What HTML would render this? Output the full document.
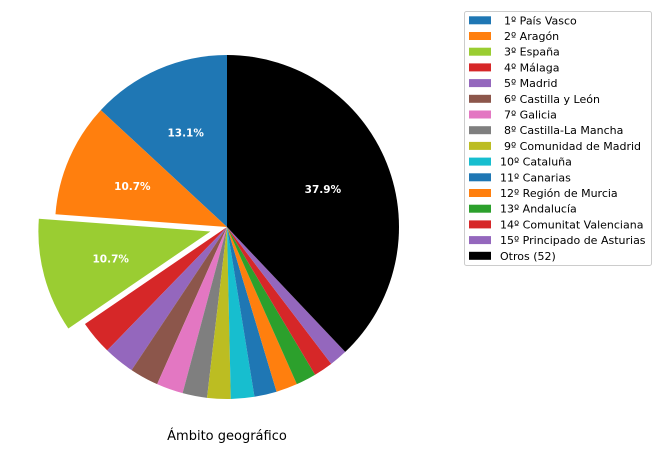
<!DOCTYPE html>
<html><head><meta charset="utf-8"><style>
body{margin:0;background:#fff;width:659px;height:454px;overflow:hidden;font-family:"DejaVu Sans","Liberation Sans",sans-serif}
</style></head><body>
<svg id="chart" width="659" height="454" xmlns="http://www.w3.org/2000/svg">
<g id="slices"></g>
<g id="labels"></g>
<text x="227" y="440" text-anchor="middle" font-size="13" fill="#000">Ámbito geográfico</text>
<rect x="464.5" y="11.5" width="187" height="254" fill="#fff" stroke="#ccc" rx="2"/>
<g id="legend"></g>
</svg>
<script>
const categories=["1º País Vasco","2º Aragón","3º España","4º Málaga","5º Madrid","6º Castilla y León","7º Galicia","8º Castilla-La Mancha","9º Comunidad de Madrid","10º Cataluña","11º Canarias","12º Región de Murcia","13º Andalucía","14º Comunitat Valenciana","15º Principado de Asturias","Otros (52)"];
const values=[13.1,10.7,10.7,3.2,2.9,2.7,2.5,2.3,2.2,2.2,2.1,2.0,1.9,1.8,1.7,37.9];
const colors=["#1f77b4","#ff7f0e","#9acd32","#d62728","#9467bd","#8c564b","#e377c2","#7f7f7f","#bcbd22","#17becf","#1f77b4","#ff7f0e","#2ca02c","#d62728","#9467bd","#000000"];
const explode=[0,0,0.1,0,0,0,0,0,0,0,0,0,0,0,0,0];
const showPct=[true,true,true,false,false,false,false,false,false,false,false,false,false,false,false,true];
const NS="http://www.w3.org/2000/svg";
const cx=227,cy=227,r=172;
const total=values.reduce((a,b)=>a+b,0);
let a=90;
const gS=document.getElementById('slices'),gL=document.getElementById('labels'),gLeg=document.getElementById('legend');
values.forEach((v,i)=>{
  const sw=v/total*360, a0=a, a1=a+sw, mid=(a0+a1)/2*Math.PI/180;
  const ox=explode[i]*r*Math.cos(mid), oy=-explode[i]*r*Math.sin(mid);
  const x0=cx+ox+r*Math.cos(a0*Math.PI/180), y0=cy+oy-r*Math.sin(a0*Math.PI/180);
  const x1=cx+ox+r*Math.cos(a1*Math.PI/180), y1=cy+oy-r*Math.sin(a1*Math.PI/180);
  const p=document.createElementNS(NS,'path');
  p.setAttribute('d',`M${cx+ox},${cy+oy}L${x0},${y0}A${r},${r} 0 ${sw>180?1:0} 0 ${x1},${y1}Z`);
  p.setAttribute('fill',colors[i]);
  
  
  gS.appendChild(p);
  if(showPct[i]){
    const t=document.createElementNS(NS,'text');
    t.setAttribute('x',cx+ox+0.6*r*Math.cos(mid));
    t.setAttribute('y',cy+oy-0.6*r*Math.sin(mid)+4);
    t.setAttribute('text-anchor','middle');t.setAttribute('font-size','10.5');t.setAttribute('font-weight','bold');t.setAttribute('fill','#fff');
    t.textContent=(v/total*100).toFixed(1)+'%';
    
    
    gL.appendChild(t);
  }
  a=a1;
  const y=20.3+i*15.7;
  const rc=document.createElementNS(NS,'rect');
  rc.setAttribute('x',469);rc.setAttribute('y',y-4);rc.setAttribute('width',22);rc.setAttribute('height',8);rc.setAttribute('fill',colors[i]);
  
  
  gLeg.appendChild(rc);
  const tx=document.createElementNS(NS,'text');
  const single=/^\d º/.test(categories[i].replace(/^(\d)º/,'$1 º'))&&/^\dº/.test(categories[i]);
  tx.setAttribute('x',single?504:500);tx.setAttribute('y',y+4);tx.setAttribute('font-size','11');tx.setAttribute('fill','#000');
  tx.textContent=categories[i];
  
  
  gLeg.appendChild(tx);
});
</script>
</body></html>
